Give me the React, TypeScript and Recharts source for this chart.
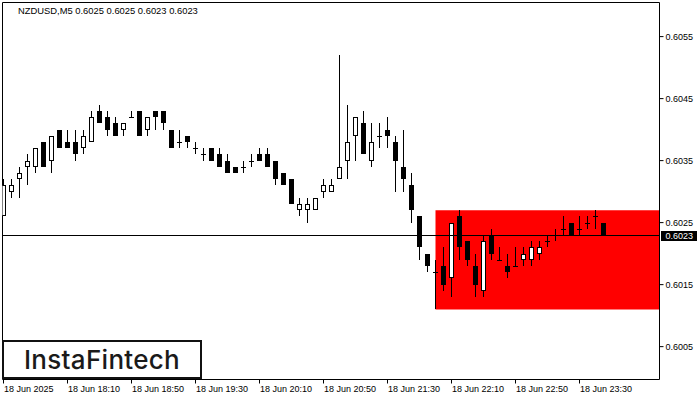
import React from "react";
import {
  ComposedChart,
  Bar,
  XAxis,
  YAxis,
  ReferenceArea,
  ReferenceLine,
} from "recharts";

// NZDUSD M5 candles, 18 Jun 2025 17:30 .. 23:45
const opens = [
  0.6026, 0.603, 0.6032, 0.6034, 0.6034, 0.6038, 0.6035, 0.604, 0.6038, 0.6038,
  0.6037, 0.6038, 0.6043, 0.6042, 0.6041, 0.604, 0.6042, 0.6043, 0.604, 0.6043,
  0.6043, 0.604, 0.6038, 0.6039, 0.6037, 0.6036, 0.6037, 0.6036, 0.6035, 0.6034,
  0.6034, 0.6035, 0.6036, 0.6036, 0.6035, 0.6033, 0.6032, 0.6027, 0.6027, 0.6027,
  0.603, 0.603, 0.6032, 0.6035, 0.6039, 0.6041, 0.6035, 0.6039, 0.604, 0.6038,
  0.6034, 0.6031, 0.6026, 0.602, 0.6017, 0.6018, 0.6016, 0.6026, 0.6022, 0.6018,
  0.6014, 0.6023, 0.6019, 0.6018, 0.6018, 0.6019, 0.6019, 0.602, 0.6022, 0.6023,
  0.6024, 0.6025, 0.6024, 0.6025, 0.6026, 0.6025,
];
const highs = [
  0.6032, 0.6032, 0.6034, 0.6036, 0.6037, 0.6038, 0.6039, 0.604, 0.604, 0.604,
  0.604, 0.6043, 0.6044, 0.6043, 0.6042, 0.6041, 0.6043, 0.6043, 0.6042, 0.6043,
  0.6043, 0.604, 0.604, 0.6039, 0.6038, 0.6037, 0.6037, 0.6037, 0.6036, 0.6034,
  0.6035, 0.6036, 0.6037, 0.6037, 0.6035, 0.6033, 0.6032, 0.6029, 0.6029, 0.6029,
  0.6032, 0.6032, 0.6052, 0.6044, 0.6042, 0.6043, 0.6041, 0.6041, 0.6042, 0.6039,
  0.604, 0.6033, 0.6026, 0.602, 0.6019, 0.6021, 0.6025, 0.6027, 0.6022, 0.602,
  0.6023, 0.6024, 0.6021, 0.602, 0.6021, 0.6021, 0.6022, 0.6022, 0.6023, 0.6024,
  0.6026, 0.6025, 0.6026, 0.6026, 0.6027, 0.6025,
];
const lows = [
  0.6026, 0.6029, 0.6029, 0.6031, 0.6033, 0.6034, 0.6033, 0.6037, 0.6037, 0.6035,
  0.6036, 0.6038, 0.6041, 0.6039, 0.6039, 0.6039, 0.6042, 0.6039, 0.6039, 0.604,
  0.604, 0.6037, 0.6037, 0.6037, 0.6036, 0.6035, 0.6035, 0.6034, 0.6033, 0.6033,
  0.6033, 0.6034, 0.6035, 0.6034, 0.6031, 0.6031, 0.6028, 0.6026, 0.6025, 0.6027,
  0.6029, 0.603, 0.6032, 0.6032, 0.6035, 0.6036, 0.6034, 0.6037, 0.6037, 0.603,
  0.603, 0.6025, 0.6019, 0.6017, 0.6011, 0.6014, 0.6013, 0.6019, 0.6018, 0.6013,
  0.6013, 0.6019, 0.6019, 0.6016, 0.6018, 0.6018, 0.6018, 0.6019, 0.6021, 0.6022,
  0.6023, 0.6023, 0.6023, 0.6024, 0.6024, 0.6023,
];
const closes = [
  0.6031, 0.6031, 0.6033, 0.6035, 0.6037, 0.6034, 0.6039, 0.6037, 0.6037, 0.6036,
  0.6039, 0.6042, 0.6041, 0.604, 0.6039, 0.6041, 0.6042, 0.6039, 0.6042, 0.6042,
  0.6041, 0.6037, 0.6038, 0.6038, 0.6037, 0.6036, 0.6035, 0.6034, 0.6033, 0.6033,
  0.6034, 0.6035, 0.6035, 0.6034, 0.6032, 0.6031, 0.6028, 0.6028, 0.6028, 0.6029,
  0.6031, 0.6031, 0.6034, 0.6038, 0.6042, 0.6036, 0.6038, 0.6039, 0.6039, 0.6035,
  0.6032, 0.6027, 0.6021, 0.6018, 0.6017, 0.6015, 0.6025, 0.6021, 0.6019, 0.6015,
  0.6022, 0.602, 0.6019, 0.6017, 0.6018, 0.602, 0.6021, 0.6021, 0.6022, 0.6023,
  0.6024, 0.6023, 0.6024, 0.6025, 0.6026, 0.6023,
];

const xTickIndices = [0, 8, 16, 24, 32, 40, 48, 56, 64, 72];
const xTickLabels = [
  "18 Jun 2025",
  "18 Jun 18:10",
  "18 Jun 18:50",
  "18 Jun 19:30",
  "18 Jun 20:10",
  "18 Jun 20:50",
  "18 Jun 21:30",
  "18 Jun 22:10",
  "18 Jun 22:50",
  "18 Jun 23:30",
];
const yTicks = [0.6005, 0.6015, 0.6025, 0.6035, 0.6045, 0.6055];

// pattern rectangle (starts at candle 54, runs to the right edge)
const boxStart = 54;
const boxTop = 0.6027;
const boxBottom = 0.6011;

const lastPrice = 0.6023;
const title = "NZDUSD,M5  0.6025 0.6025 0.6023 0.6023";

const X_DOMAIN: [number, number] = [-0.125, 82];
const Y_DOMAIN: [number, number] = [0.59997, 0.60605];
const FONT = "'Liberation Sans', Arial, sans-serif";

const data = opens.map((open, i) => ({
  i,
  open,
  high: highs[i],
  low: lows[i],
  close: closes[i],
  range: [lows[i], highs[i]],
}));

function Candle(props: any) {
  const { x, y, width, height, payload } = props;
  const { open, close, high, low } = payload;
  const top0 = Math.min(y, y + height);
  const h = Math.abs(height);
  const span = high - low;
  const py = (v: number) => (span > 0 ? top0 + ((high - v) / span) * h : top0);
  const cx = Math.floor(x + width / 2) + 0.5;
  const yHigh = Math.round(py(high));
  const yLow = Math.round(py(low));
  const top = Math.round(py(Math.max(open, close)));
  const bottom = Math.round(py(Math.min(open, close)));
  const bull = close > open;

  let body;
  if (bottom - top < 1) {
    body = <rect x={cx - 2.5} y={top} width={5} height={1} fill="#000" />;
  } else if (bull) {
    body = (
      <rect
        x={cx - 2}
        y={top + 0.5}
        width={4}
        height={bottom - top - 1}
        fill="#fff"
        stroke="#000"
        strokeWidth={1}
      />
    );
  } else {
    body = (
      <rect x={cx - 2.5} y={top} width={5} height={bottom - top} fill="#000" />
    );
  }
  return (
    <g>
      <rect x={cx - 0.5} y={yHigh} width={1} height={Math.max(1, yLow - yHigh)} fill="#000" />
      {body}
    </g>
  );
}

function TimeTick(props: any) {
  const { x, y, payload } = props;
  const idx = xTickIndices.indexOf(payload.value);
  return (
    <text
      x={x + 0.5}
      y={y}
      dy="0.71em"
      fontSize={9}
      fontFamily={FONT}
      fill="#000"
      textAnchor="start"
    >
      {xTickLabels[idx]}
    </text>
  );
}

function PriceTag(props: any) {
  const { viewBox } = props;
  if (!viewBox) return null;
  const lx = viewBox.x + viewBox.width;
  const ly = Math.round(viewBox.y);
  return (
    <g>
      <rect x={lx + 1.5} y={ly - 4} width={36} height={10} fill="#000" />
      <text
        x={lx + 6}
        y={ly + 1}
        dy="0.355em"
        fontSize={9}
        fontFamily={FONT}
        fill="#fff"
      >
        {lastPrice.toFixed(4)}
      </text>
    </g>
  );
}

// keep the 1px price line on a pixel row
function CrispLine(props: any) {
  const { x1, x2, y1 } = props;
  const yy = Math.floor(y1) + 0.5;
  return <line x1={x1} x2={x2} y1={yy} y2={yy} stroke="#000" strokeWidth={1} />;
}

export default function App() {
  return (
    <div
      style={{
        position: "absolute",
        left: 0,
        top: 0,
        width: 700,
        height: 400,
        background: "#fff",
      }}
    >
      <ComposedChart
        width={700}
        height={400}
        data={data}
        margin={{ top: 2.5, right: 0, left: 2.5, bottom: 0 }}
      >
        <XAxis
          type="number"
          dataKey="i"
          domain={X_DOMAIN}
          allowDataOverflow
          ticks={xTickIndices}
          interval={0}
          height={20.5}
          tickSize={4}
          axisLine={false}
          tickLine={{ stroke: "#000" }}
          tick={<TimeTick />}
        />
        <YAxis
          type="number"
          orientation="right"
          domain={Y_DOMAIN}
          allowDataOverflow
          ticks={yTicks}
          interval={0}
          width={40.5}
          tickSize={4}
          axisLine={false}
          tickLine={{ stroke: "#000" }}
          tick={{ fontSize: 9, fontFamily: FONT, fill: "#000" }}
          tickFormatter={(v: number) => v.toFixed(4)}
        />
        <ReferenceArea
          x1={boxStart}
          x2={X_DOMAIN[1]}
          y1={boxBottom}
          y2={boxTop}
          fill="#ff0000"
          fillOpacity={1}
          stroke="none"
        />
        <Bar
          dataKey="range"
          barSize={5}
          shape={<Candle />}
          isAnimationActive={false}
        />
        <ReferenceLine
          y={lastPrice}
          stroke="#000"
          strokeWidth={1}
          shape={<CrispLine />}
          label={<PriceTag />}
        />
        <ReferenceArea
          x1={X_DOMAIN[0]}
          x2={X_DOMAIN[1]}
          y1={Y_DOMAIN[0]}
          y2={Y_DOMAIN[1]}
          fill="none"
          stroke="#000"
          strokeWidth={1}
        />
        <text
          x={18}
          y={11}
          dy="0.355em"
          fontSize={9.4}
          fontFamily={FONT}
          fill="#000"
        >
          {title}
        </text>
      </ComposedChart>
      <div
        style={{
          position: "absolute",
          left: 2,
          top: 340,
          width: 200,
          height: 39,
          boxSizing: "border-box",
          border: "2px solid #111",
          background: "#fff",
          display: "flex",
          alignItems: "center",
          justifyContent: "center",
          fontFamily: "Inter, 'Noto Sans', sans-serif",
          fontWeight: 500,
          fontSize: 26,
          color: "#1a1a1a",
          letterSpacing: 0.3,
        }}
      >
        InstaFintech
      </div>
    </div>
  );
}
